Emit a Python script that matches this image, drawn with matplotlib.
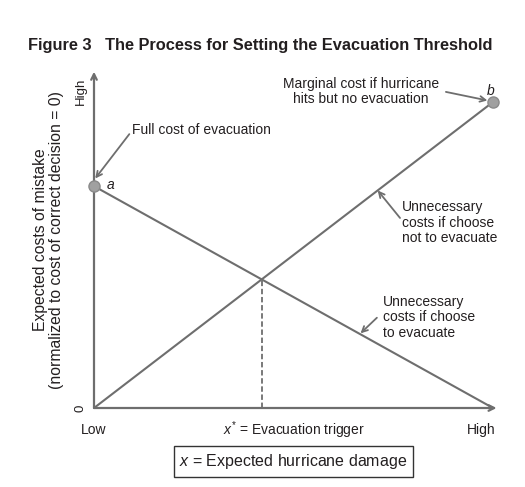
import matplotlib
matplotlib.use('Agg')
import matplotlib.pyplot as plt

plt.rcParams['font.family'] = ['Liberation Sans', 'DejaVu Sans']
plt.rcParams['mathtext.fontset'] = 'custom'
plt.rcParams['mathtext.rm'] = 'Liberation Sans'
plt.rcParams['mathtext.it'] = 'Liberation Sans:italic'

# --- dati (scala normalizzata: 0 = Low, 1 = High) ---
damage = [0.0, 1.0]
cost_evacuate = [0.725, 0.0]      # linea da a verso lo zero
cost_no_evacuate = [0.0, 1.0]     # linea da zero verso b
x_tick_labels = ['Low', '$x^{*}$ = Evacuation trigger', 'High']
y_tick_labels = ['0', 'High']

# punto di incrocio = soglia di evacuazione
a_val = cost_evacuate[0]
b_val = cost_no_evacuate[1]
x_star = a_val / (a_val + b_val)
y_star = b_val * x_star

gray = '#6e6e6e'
txt = '#231f20'

W, H = 525, 487
xmax, ymax = 1.02, 1.12
fig = plt.figure(figsize=(W / 100, H / 100), dpi=100)
ax = fig.add_axes([94 / W, 79 / H, 399 * xmax / W, 306 * ymax / H])
ax.set_xlim(0, xmax)
ax.set_ylim(0, ymax)
ax.axis('off')

# assi con frecce
ax.annotate('', xy=(0, 1.099), xytext=(0, 0), annotation_clip=False,
            arrowprops=dict(arrowstyle='->', color=gray, lw=1.6, shrinkA=0, shrinkB=0))
ax.annotate('', xy=(1.009, 0), xytext=(0, 0), annotation_clip=False,
            arrowprops=dict(arrowstyle='->', color=gray, lw=1.6, shrinkA=0, shrinkB=0))

# linee dei costi
ax.plot(damage, cost_evacuate, color=gray, lw=1.5, solid_capstyle='butt', clip_on=False)
ax.plot(damage, cost_no_evacuate, color=gray, lw=1.5, solid_capstyle='butt', clip_on=False)
ax.plot([x_star, x_star], [0, y_star], color=gray, lw=1.3, linestyle=(0, (3, 1.5)))

# punti a e b
ax.plot([damage[0], damage[1]], [cost_evacuate[0], cost_no_evacuate[1]], 'o',
        color='#a0a0a0', markeredgecolor='#8a8a8a', markersize=8, zorder=5, clip_on=False)
ax.text(0.032, 0.729, 'a', style='italic', fontsize=10, color=txt, va='center')
ax.text(0.994, 1.037, 'b', style='italic', fontsize=10, color=txt, ha='center', va='center')

# etichette assi
ax.text(0.0, -0.072, x_tick_labels[0], fontsize=10, color=txt, ha='center', va='center')
ax.text(0.5, -0.072, x_tick_labels[1], fontsize=10, color=txt, ha='center', va='center')
ax.text(0.97, -0.072, x_tick_labels[2], fontsize=10, color=txt, ha='center', va='center')
ax.text(-0.033, 0.0, y_tick_labels[0], fontsize=9.5, color=txt, ha='center', va='center', rotation=90)
ax.text(-0.033, 1.034, y_tick_labels[1], fontsize=9.5, color=txt, ha='center', va='center', rotation=90)

ax.text(0.5, -0.175, '$x$ = Expected hurricane damage', fontsize=11.5, color=txt,
        ha='center', va='center',
        bbox=dict(boxstyle='square,pad=0.35', facecolor='white', edgecolor='#333333', lw=1.0))

ax.text(-0.115, 0.55, 'Expected costs of mistake\n(normalized to cost of correct decision = 0)',
        fontsize=11.3, color=txt, ha='center', va='center', rotation=90, linespacing=1.1)

# annotazioni con frecce
arrow = dict(arrowstyle='->', color=gray, lw=1.3, shrinkA=0, shrinkB=0)

ax.text(0.095, 0.91, 'Full cost of evacuation', fontsize=10, color=txt, va='center')
ax.annotate('', xy=(0.003, 0.75), xytext=(0.0885, 0.895), arrowprops=arrow)

ax.text(0.669, 1.034, 'Marginal cost if hurricane\nhits but no evacuation', fontsize=10,
        color=txt, ha='center', va='center', linespacing=1.15)
ax.annotate('', xy=(0.986, 1.005), xytext=(0.882, 1.033), arrowprops=arrow)

ax.text(0.772, 0.606, 'Unnecessary\ncosts if choose\nnot to evacuate', fontsize=10,
        color=txt, va='center', linespacing=1.1)
ax.annotate('', xy=(0.711, 0.711), xytext=(0.767, 0.621), arrowprops=arrow)

ax.text(0.7235, 0.296, 'Unnecessary\ncosts if choose\nto evacuate', fontsize=10,
        color=txt, va='center', linespacing=1.1)
ax.annotate('', xy=(0.668, 0.244), xytext=(0.709, 0.295), arrowprops=arrow)

fig.text(28 / W, 1 - 45.7 / H, 'Figure 3   The Process for Setting the Evacuation Threshold',
         fontsize=11.8, fontweight='bold', color=txt, va='center')

fig.savefig('out.png', dpi=100)
